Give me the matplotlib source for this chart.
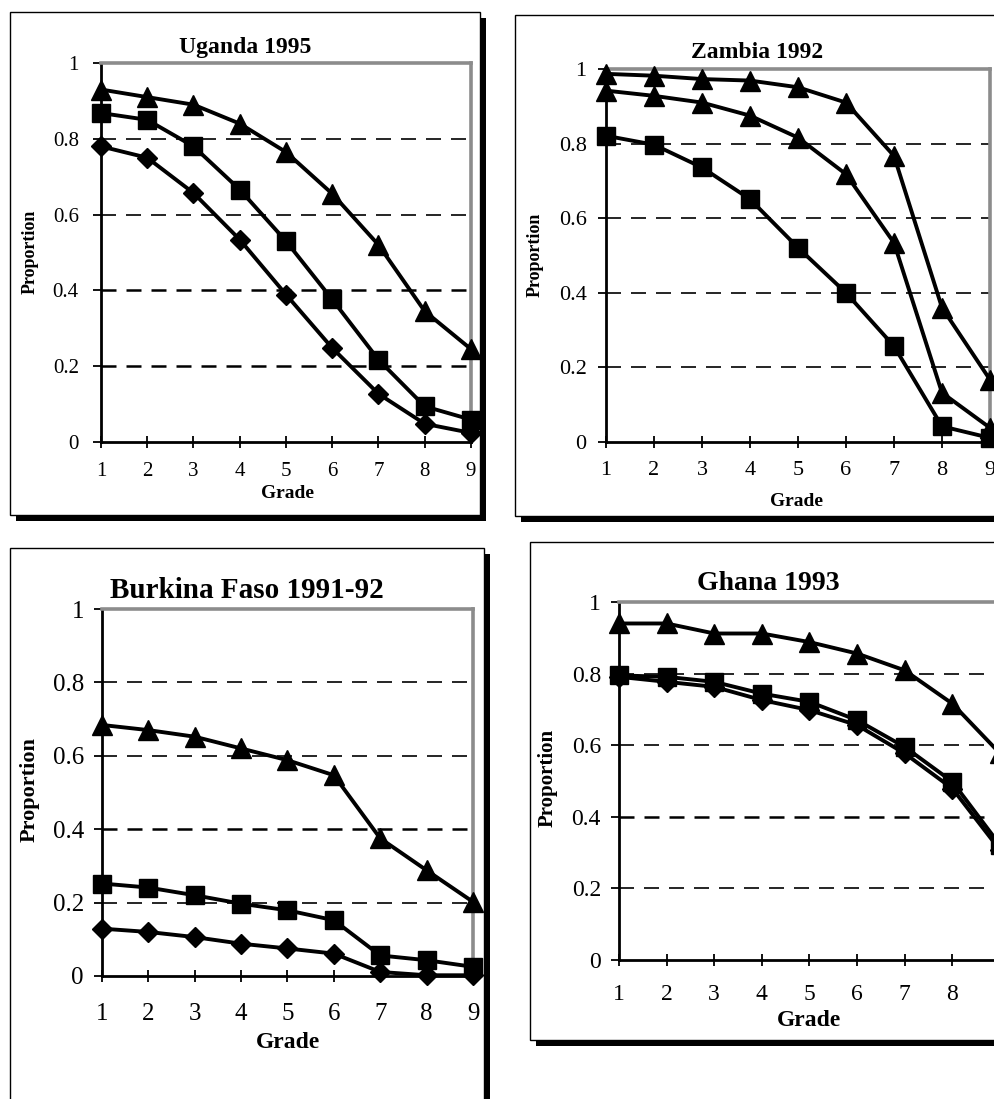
import matplotlib.pyplot as plt
from matplotlib.patches import Rectangle

W, H = 995, 1099
plt.rcParams['font.family'] = ['Liberation Serif', 'DejaVu Serif']

grades = [1, 2, 3, 4, 5, 6, 7, 8, 9]

# --- values ---
uganda_tri = [0.93, 0.91, 0.89, 0.84, 0.765, 0.655, 0.52, 0.345, 0.245]
uganda_sq = [0.868, 0.85, 0.78, 0.666, 0.53, 0.376, 0.217, 0.094, 0.059]
uganda_dia = [0.78, 0.75, 0.657, 0.534, 0.389, 0.248, 0.127, 0.048, 0.024]

zambia_tri_top = [0.987, 0.982, 0.973, 0.969, 0.951, 0.91, 0.767, 0.36, 0.167]
zambia_tri_mid = [0.942, 0.928, 0.91, 0.875, 0.816, 0.718, 0.534, 0.132, 0.038]
zambia_sq = [0.821, 0.797, 0.736, 0.651, 0.521, 0.40, 0.257, 0.042, 0.011]

burkina_tri = [0.684, 0.67, 0.652, 0.62, 0.588, 0.547, 0.375, 0.288, 0.202]
burkina_sq = [0.252, 0.241, 0.22, 0.197, 0.179, 0.152, 0.056, 0.043, 0.025]
burkina_dia = [0.129, 0.12, 0.106, 0.088, 0.075, 0.061, 0.011, 0.002, 0.002]

ghana_tri = [0.94, 0.94, 0.912, 0.912, 0.888, 0.856, 0.809, 0.716, 0.577]
ghana_sq = [0.795, 0.791, 0.777, 0.744, 0.721, 0.67, 0.595, 0.498, 0.321]
ghana_dia = [0.791, 0.777, 0.763, 0.726, 0.698, 0.656, 0.577, 0.479, 0.307]

yticks = [0, 0.2, 0.4, 0.6, 0.8, 1]
ytick_labels = ['0', '0.2', '0.4', '0.6', '0.8', '1']

fig = plt.figure(figsize=(W / 100, H / 100), dpi=100)


def fx(px):
    return px / W


def fy(py):
    return 1 - py / H


def panel_box(x0, y0, x1, y1):
    # white box with thin border and a black drop shadow (right + bottom)
    fig.add_artist(Rectangle((fx(x0 + 6), fy(y1 + 6)), fx(x1 - x0), (y1 - y0) / H,
                             transform=fig.transFigure, facecolor='black',
                             edgecolor='none', zorder=-3))
    fig.add_artist(Rectangle((fx(x0), fy(y1)), fx(x1 - x0), (y1 - y0) / H,
                             transform=fig.transFigure, facecolor='white',
                             edgecolor='black', linewidth=1.0, zorder=-2))


def make_axes(left, right, top, bottom, tick_fs, xpad, ypad, thick_grid):
    ax = fig.add_axes([fx(left), fy(bottom), fx(right - left), (bottom - top) / H])
    ax.set_facecolor('none')
    ax.set_xlim(1, 9)
    ax.set_ylim(0, 1)
    ax.set_xticks(grades)
    ax.set_yticks(yticks)
    ax.set_yticklabels(ytick_labels)
    for v in [0.2, 0.4, 0.6, 0.8]:
        lw = 1.8 if v in thick_grid else 1.2
        ax.axhline(v, color='black', lw=lw, linestyle=(0, (9 * 1.2 / lw, 6 * 1.2 / lw)), zorder=1)
    for s in ['left', 'bottom']:
        ax.spines[s].set_color('black')
        ax.spines[s].set_linewidth(2.0)
    for s in ['top', 'right']:
        ax.spines[s].set_color('#8c8c8c')
        ax.spines[s].set_linewidth(2.6)
    ax.tick_params(axis='x', direction='inout', length=9, width=1.3, pad=xpad,
                   labelsize=tick_fs, colors='black')
    ax.tick_params(axis='y', direction='out', length=6, width=1.3, pad=ypad,
                   labelsize=tick_fs, colors='black')
    return ax


def draw(ax, y, marker, ms):
    ax.plot(grades, y, color='black', lw=2.8, marker=marker, markersize=ms,
            markerfacecolor='black', markeredgecolor='black', clip_on=False, zorder=3)


def labels(title, tx, ty, title_fs, ylab_x, ylab_y, ylab_fs, grade_x, grade_y, grade_fs):
    fig.text(fx(tx), fy(ty), title, ha='center', va='center', fontsize=title_fs, fontweight='bold')
    fig.text(fx(ylab_x), fy(ylab_y), 'Proportion', ha='center', va='center', rotation=90,
             fontsize=ylab_fs, fontweight='bold')
    fig.text(fx(grade_x), fy(grade_y), 'Grade', ha='center', va='center',
             fontsize=grade_fs, fontweight='bold')


# panel frames
panel_box(10, 12, 480, 515)
panel_box(515, 15, 1010, 516)
panel_box(10, 548, 484, 1110)
panel_box(530, 542, 1010, 1040)

# Uganda 1995
ax = make_axes(101, 471, 63, 442, 15, 10, 10, [0.2, 0.4])
draw(ax, uganda_tri, '^', 14)
draw(ax, uganda_sq, 's', 13)
draw(ax, uganda_dia, 'D', 10)
labels('Uganda 1995', 245, 47, 17, 30, 252, 13, 287, 493, 14)

# Zambia 1992
ax = make_axes(606, 990, 69, 442, 16, 9, 8, [])
draw(ax, zambia_tri_top, '^', 14)
draw(ax, zambia_tri_mid, '^', 14)
draw(ax, zambia_sq, 's', 13)
labels('Zambia 1992', 757, 52, 17, 535, 255, 13, 797, 502, 14)

# Burkina Faso 1991-92
ax = make_axes(102, 473, 609, 976, 18, 15, 7, [0.4])
draw(ax, burkina_tri, '^', 14)
draw(ax, burkina_sq, 's', 13)
draw(ax, burkina_dia, 'D', 10)
labels('Burkina Faso 1991-92', 247, 590, 21, 30, 790, 16, 288, 1043, 17)

# Ghana 1993
ax = make_axes(619, 1000, 602, 960, 17, 13, 7, [0.4])
draw(ax, ghana_tri, '^', 14)
draw(ax, ghana_sq, 's', 13)
draw(ax, ghana_dia, 'D', 10)
labels('Ghana 1993', 768, 583, 20, 548, 778, 15, 809, 1020, 17)

fig.savefig('out.png', dpi=100, facecolor='white')
